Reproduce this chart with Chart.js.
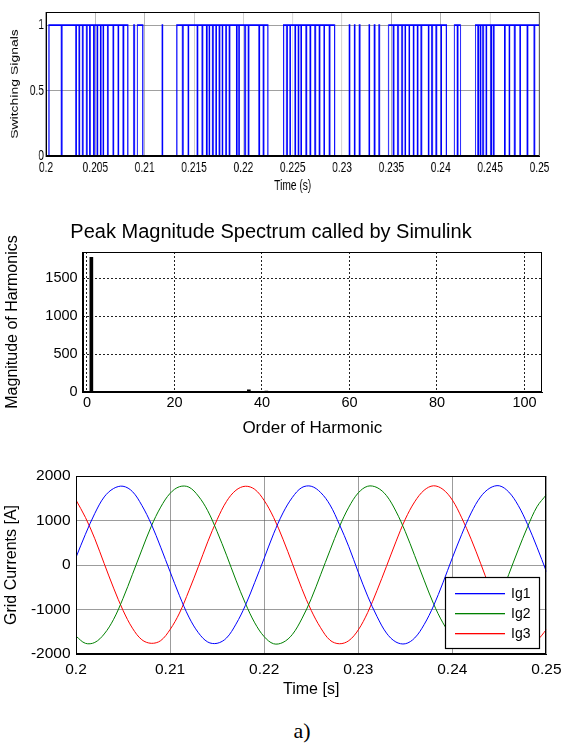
<!DOCTYPE html>
<html>
<head>
<meta charset="utf-8">
<script src="https://cdn.jsdelivr.net/npm/chart.js@4.4.1/dist/chart.umd.min.js"></script>
<style>
body{margin:0;background:#fff;width:568px;height:747px;position:relative;overflow:hidden}
canvas{position:absolute;left:0}
#c2{top:210px}
#c3{top:460px}
#cap{position:absolute;left:0;width:604px;top:719px;line-height:24px;text-align:center;font-size:22px;font-family:"Liberation Serif","Times New Roman",serif}
</style>
</head>
<body>
<canvas id="c1" width="835" height="200" style="top:0;width:568px;height:200px"></canvas>
<canvas id="c2" width="568" height="235"></canvas>
<canvas id="c3" width="568" height="250"></canvas>
<div id="cap">a)</div>
<script>
// --- switching signals (top) ---
var highStart = [0.20030, 0.20926, 0.21326, 0.22407, 0.23472, 0.24138, 0.24351];
var highEnd   = [0.20829, 0.20981, 0.22248, 0.22924, 0.24057, 0.24199, 0.25];
var dipTimes = [0.20159, 0.20304, 0.20338, 0.20372, 0.20413, 0.20446, 0.20487, 0.20520, 0.20555, 0.20581, 0.20626, 0.20683, 0.20733, 0.20784,
  0.21386, 0.21443, 0.21534, 0.21585, 0.21630, 0.21656, 0.21691, 0.21724, 0.21758, 0.21788, 0.21826, 0.21859, 0.21934, 0.21957, 0.22018, 0.22052, 0.22160, 0.22204,
  0.22441, 0.22475, 0.22525, 0.22559, 0.22586, 0.22637, 0.22678, 0.22728, 0.22772, 0.22820, 0.22873,
  0.23522, 0.23567, 0.23608, 0.23641, 0.23682, 0.23725, 0.23766, 0.23803, 0.23877, 0.23912, 0.23955, 0.24006,
  0.24171,
  0.24378, 0.24402, 0.24429, 0.24462, 0.24510, 0.24537, 0.24650, 0.24696, 0.24750, 0.24805, 0.24878, 0.24949];
var spikeTimes = [0.20893, 0.21180, 0.23076, 0.23127, 0.23178, 0.23276, 0.23330, 0.23377];
var pulseWidth = 0.00006;
var switchTicks = [0.2, 0.205, 0.21, 0.215, 0.22, 0.225, 0.23, 0.235, 0.24, 0.245, 0.25];
var switchTickLabels = ['0.2', '0.205', '0.21', '0.215', '0.22', '0.225', '0.23', '0.235', '0.24', '0.245', '0.25'];
var switchYTicks = [0, 0.5, 1];
var switchYTickLabels = ['0', '0.5', '1'];

// --- harmonic spectrum (middle) ---
var harmonicOrder = [1, 37, 41];
var harmonicMag = [1778, 30, 12];
var harmonicXTicks = [0, 20, 40, 60, 80, 100];
var harmonicYTicks = [0, 500, 1000, 1500];

// --- grid currents (bottom) ---
var sampleTimes = [0.200, 0.201, 0.202, 0.203, 0.204, 0.205, 0.206, 0.207, 0.208, 0.209,
  0.210, 0.211, 0.212, 0.213, 0.214, 0.215, 0.216, 0.217, 0.218, 0.219,
  0.220, 0.221, 0.222, 0.223, 0.224, 0.225, 0.226, 0.227, 0.228, 0.229,
  0.230, 0.231, 0.232, 0.233, 0.234, 0.235, 0.236, 0.237, 0.238, 0.239,
  0.240, 0.241, 0.242, 0.243, 0.244, 0.245, 0.246, 0.247, 0.248, 0.249, 0.250];
var ig1 = [170, 690, 1160, 1530, 1720, 1770, 1650, 1340, 920, 400, -150, -690, -1170, -1520, -1730, -1760, -1640, -1330, -910, -390,
  150, 700, 1170, 1520, 1740, 1770, 1630, 1350, 910, 410, -160, -700, -1160, -1530, -1730, -1770, -1640, -1340, -920, -400,
  160, 690, 1170, 1530, 1730, 1780, 1640, 1340, 910, 400, -150];
var ig2 = [-1600, -1760, -1740, -1550, -1220, -750, -210, 340, 870, 1300, 1610, 1760, 1750, 1550, 1220, 750, 220, -340, -860, -1300,
  -1610, -1770, -1740, -1560, -1210, -760, -220, 330, 860, 1300, 1620, 1770, 1740, 1560, 1210, 750, 210, -340, -870, -1300,
  -1610, -1760, -1750, -1550, -1220, -750, -210, 340, 860, 1310, 1580];
var ig3 = [1460, 1070, 590, 30, -520, -1020, -1420, -1680, -1760, -1700, -1450, -1080, -580, -40, 520, 1020, 1430, 1680, 1770, 1700,
  1450, 1070, 580, 30, -530, -1020, -1410, -1690, -1770, -1700, -1460, -1070, -570, -30, 520, 1030, 1420, 1680, 1780, 1700,
  1460, 1060, 580, 40, -520, -1020, -1420, -1680, -1770, -1690, -1450];
var currentLabels = ['Ig1', 'Ig2', 'Ig3'];
var currentColors = ['#0000ff', '#008000', '#ff0000'];
var currentXTicks = [0.2, 0.21, 0.22, 0.23, 0.24, 0.25];
var currentXTickLabels = ['0.2', '0.21', '0.22', '0.23', '0.24', '0.25'];
var currentYTicks = [-2000, -1000, 0, 1000, 2000];

Chart.defaults.font.family = '"Liberation Sans", Arial, sans-serif';
Chart.defaults.color = '#000';
Chart.defaults.animation = false;
Chart.defaults.plugins.legend.display = false;
Chart.defaults.plugins.tooltip.enabled = false;

// box round the plot area, like matlab
var frame = {
  id: 'frame',
  afterDatasetsDraw: function(chart) {
    var a = chart.chartArea, c = chart.ctx;
    c.save();
    c.strokeStyle = '#000';
    c.lineWidth = 1;
    c.strokeRect(Math.round(a.left) + 0.5, Math.round(a.top) + 0.5, Math.round(a.right - a.left) - 1, Math.round(a.bottom - a.top) - 1);
    c.restore();
  }
};

function fixTicks(list) {
  return function(scale) { scale.ticks = list.map(function(v) { return {value: v}; }); };
}
function plain(v) { return String(v); }

// top chart: step signal built from the edge lists
var ev = [];
highStart.forEach(function(t, i) { ev.push([t, 1]); ev.push([highEnd[i], 0]); });
dipTimes.forEach(function(t) { ev.push([t - pulseWidth / 2, 0]); ev.push([t + pulseWidth / 2, 1]); });
spikeTimes.forEach(function(t) { ev.push([t - pulseWidth / 2, 1]); ev.push([t + pulseWidth / 2, 0]); });
ev.sort(function(a, b) { return a[0] - b[0]; });
var switchPts = [{x: 0.2, y: 0}].concat(ev.map(function(e) { return {x: e[0], y: e[1]}; }));

new Chart(document.getElementById('c1'), {
  type: 'line',
  data: {datasets: [{data: switchPts, stepped: 'before', borderColor: '#0000ff', borderWidth: 1.6, pointRadius: 0, fill: false}]},
  options: {
    responsive: false,
    layout: {padding: {left: 0, right: 42, top: 7.5, bottom: 0}},
    scales: {
      x: {
        type: 'linear', min: 0.2, max: 0.25,
        afterBuildTicks: fixTicks(switchTicks),
        afterFit: function(s) { s.height = 44; },
        ticks: {font: {size: 15}, padding: 3, maxRotation: 0, autoSkip: false,
          callback: function(v, i) { return switchTickLabels[i]; }},
        grid: {color: 'rgba(120,120,120,0.6)', drawTicks: false},
        border: {color: '#000'},
        title: {display: true, text: 'Time (s)', font: {size: 15}, padding: {top: 0, bottom: 5}}
      },
      y: {
        min: 0, max: 1.1,
        afterBuildTicks: fixTicks(switchYTicks),
        afterFit: function(s) { s.width = 67.6; },
        ticks: {font: {size: 15}, padding: 3, callback: function(v, i) { return switchYTickLabels[i]; }},
        grid: {color: 'rgba(120,120,120,0.7)', drawTicks: false},
        border: {color: '#000'},
        title: {display: true, text: 'Switching Signals', font: {size: 14}, padding: {top: 13.6, bottom: 0}}
      }
    }
  },
  plugins: [frame]
});

// middle chart: harmonic spectrum
new Chart(document.getElementById('c2'), {
  type: 'bar',
  data: {datasets: [{
    data: harmonicOrder.map(function(h, i) { return {x: h, y: harmonicMag[i]}; }),
    backgroundColor: '#000', barThickness: 3
  }]},
  options: {
    responsive: false,
    layout: {padding: {left: 0, right: 26, top: 0, bottom: 0}},
    plugins: {
      title: {display: true, text: 'Peak Magnitude Spectrum called by Simulink', font: {size: 20, weight: 'normal'},
        padding: {top: 10, bottom: 8}}
    },
    scales: {
      x: {
        type: 'linear', min: -1, max: 104, offset: false,
        afterBuildTicks: fixTicks(harmonicXTicks),
        afterFit: function(s) { s.height = 53; },
        ticks: {font: {size: 14.5}, padding: 2.5, maxRotation: 0, autoSkip: false, callback: plain},
        grid: {color: '#222', drawTicks: false, offset: false},
        border: {color: '#000', dash: [2, 2]},
        title: {display: true, text: 'Order of Harmonic', font: {size: 17}, padding: {top: 0, bottom: 6.8}}
      },
      y: {
        min: 0, max: 1850,
        afterBuildTicks: fixTicks(harmonicYTicks),
        afterFit: function(s) { s.width = 82.6; },
        ticks: {font: {size: 14.5}, padding: 5, callback: plain},
        grid: {color: '#222', drawTicks: false},
        border: {color: '#000', dash: [2, 2]},
        title: {display: true, text: 'Magnitude of Harmonics', font: {size: 16}, padding: {top: 3, bottom: 0}}
      }
    }
  },
  plugins: [frame]
});

// legend box drawn inside the plot, lower right
var boxLegend = {
  id: 'boxLegend',
  afterDraw: function(chart) {
    var c = chart.ctx;
    c.save();
    c.fillStyle = '#fff';
    c.fillRect(445, 117, 95, 72);
    c.strokeStyle = '#000';
    c.lineWidth = 1.2;
    c.strokeRect(445.5, 117.5, 94, 71);
    c.font = '14px "Liberation Sans", Arial, sans-serif';
    c.textBaseline = 'middle';
    currentLabels.forEach(function(lab, i) {
      var y = 133 + i * 20;
      c.fillStyle = currentColors[i];
      c.fillRect(455, y, 50, 1.3);
      c.fillStyle = '#000';
      c.fillText(lab, 511, y + 1);
    });
    c.restore();
  }
};

function series(vals) { return sampleTimes.map(function(t, i) { return {x: t, y: vals[i]}; }); }

new Chart(document.getElementById('c3'), {
  type: 'line',
  data: {datasets: [ig1, ig2, ig3].map(function(vals, i) {
    return {label: currentLabels[i], data: series(vals), borderColor: currentColors[i], borderWidth: 1, pointRadius: 0, tension: 0.35};
  })},
  options: {
    responsive: false,
    layout: {padding: {left: 0, right: 16, top: 16, bottom: 0}},
    scales: {
      x: {
        type: 'linear', min: 0.2, max: 0.25,
        afterBuildTicks: fixTicks(currentXTicks),
        afterFit: function(s) { s.height = 56; },
        ticks: {font: {size: 15.5}, padding: 6.5, maxRotation: 0, autoSkip: false,
          callback: function(v, i) { return currentXTickLabels[i]; }},
        grid: {color: 'rgba(90,90,90,0.6)', drawTicks: false},
        border: {color: '#000'},
        title: {display: true, text: 'Time [s]', font: {size: 16}, padding: {top: 0, bottom: 10.4}}
      },
      y: {
        min: -2000, max: 2000,
        afterBuildTicks: fixTicks(currentYTicks),
        afterFit: function(s) { s.width = 76; },
        ticks: {font: {size: 15.5}, padding: 5.4, callback: plain},
        grid: {color: 'rgba(90,90,90,0.6)', drawTicks: false},
        border: {color: '#000'},
        title: {display: true, text: 'Grid Currents [A]', font: {size: 16}, padding: {top: 2.4, bottom: 0}}
      }
    }
  },
  plugins: [frame, boxLegend]
});
</script>
</body>
</html>
